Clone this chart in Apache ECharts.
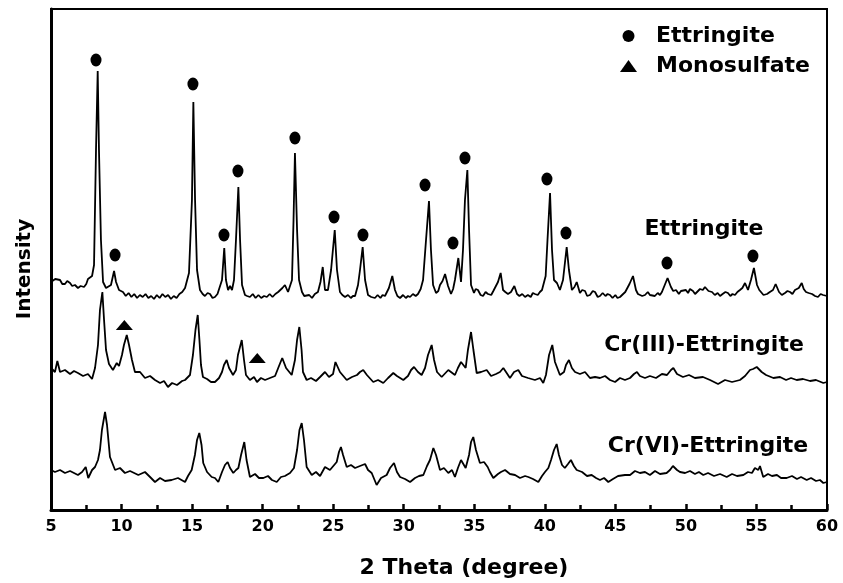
<!DOCTYPE html>
<html>
<head>
<meta charset="utf-8">
<script src="https://cdn.jsdelivr.net/npm/echarts@6/dist/echarts.min.js"></script>
<style>
html,body{margin:0;padding:0;background:#fff;}
#chart{width:843px;height:583px;}
</style>
</head>
<body>
<div id="chart"></div>
<script>
// 2 Theta (degree) vs. intensity (arbitrary units, stacked traces as displayed)
var xTicks = [5, 10, 15, 20, 25, 30, 35, 40, 45, 50, 55, 60];

var ettringite = [[5.0,228],[5.3,231],[5.64,230],[5.8,226],[5.99,226],[6.15,229],[6.35,227],[6.5,224],[6.7,225],[6.91,222],[7.1,224],[7.34,223],[7.5,226],[7.62,231],[7.76,229],[7.91,234],[8.05,245],[8.19,360],[8.31,439],[8.40,360],[8.54,270],[8.69,228],[8.9,222],[9.04,220],[9.25,225],[9.47,239],[9.61,228],[9.82,220],[10.1,218],[10.3,214],[10.5,217],[10.7,213],[10.9,216],[11.1,212],[11.3,215],[11.5,213],[11.7,216],[11.9,212],[12.1,214],[12.3,211],[12.5,215],[12.7,212],[12.9,216],[13.1,213],[13.3,215],[13.5,211],[13.7,214],[13.9,212],[14.1,216],[14.3,218],[14.5,222],[14.78,237],[14.99,310],[15.09,408],[15.21,310],[15.35,240],[15.56,220],[15.75,216],[15.91,214],[16.1,217],[16.27,216],[16.45,212],[16.62,213],[16.8,216],[16.91,218],[17.12,230],[17.28,262],[17.4,230],[17.55,220],[17.69,224],[17.83,220],[17.97,230],[18.11,270],[18.28,323],[18.4,270],[18.54,225],[18.75,215],[18.9,214],[19.1,213],[19.3,216],[19.5,212],[19.7,215],[19.9,212],[20.1,214],[20.3,213],[20.5,216],[20.7,213],[20.9,216],[21.1,218],[21.23,218],[21.4,222],[21.58,225],[21.8,218],[22.08,230],[22.19,290],[22.29,357],[22.44,280],[22.58,230],[22.79,218],[22.95,214],[23.07,213],[23.3,215],[23.5,212],[23.7,216],[23.92,218],[24.1,228],[24.26,243],[24.42,220],[24.63,220],[24.85,240],[25.11,280],[25.27,240],[25.48,218],[25.65,215],[25.84,213],[26.05,215],[26.25,212],[26.4,214],[26.55,214],[26.76,225],[26.9,240],[27.09,263],[27.26,230],[27.47,215],[27.7,213],[27.96,212],[28.15,215],[28.35,212],[28.5,215],[28.67,214],[28.95,222],[29.19,234],[29.38,220],[29.55,214],[29.74,212],[29.95,215],[30.15,212],[30.3,214],[30.45,213],[30.65,216],[30.85,214],[31.01,216],[31.2,221],[31.37,230],[31.58,270],[31.79,309],[31.93,260],[32.08,225],[32.29,217],[32.45,219],[32.57,225],[32.75,229],[32.93,236],[33.14,224],[33.35,216],[33.5,221],[33.63,230],[33.87,252],[34.06,228],[34.2,260],[34.34,310],[34.51,340],[34.63,280],[34.77,225],[34.98,217],[35.1,221],[35.26,220],[35.45,215],[35.62,214],[35.8,218],[35.97,216],[36.2,215],[36.35,219],[36.47,220],[36.68,228],[36.87,237],[37.04,220],[37.2,218],[37.39,216],[37.6,218],[37.84,224],[38.03,216],[38.2,214],[38.4,216],[38.6,213],[38.8,215],[39.0,213],[39.15,217],[39.3,216],[39.5,215],[39.65,218],[39.8,220],[40.06,234],[40.19,270],[40.37,317],[40.51,260],[40.65,230],[40.86,227],[41.07,220],[41.29,230],[41.55,263],[41.71,240],[41.92,220],[42.1,223],[42.26,228],[42.49,217],[42.65,220],[42.85,219],[43.0,214],[43.2,215],[43.4,219],[43.56,218],[43.75,213],[43.91,214],[44.1,217],[44.3,214],[44.45,216],[44.62,215],[44.8,212],[45.0,215],[45.15,212],[45.33,213],[45.55,216],[45.7,218],[45.83,220],[46.0,226],[46.25,234],[46.46,220],[46.6,216],[46.74,218],[46.9,214],[47.1,215],[47.3,218],[47.45,215],[47.59,217],[47.8,214],[48.0,217],[48.16,215],[48.3,218],[48.44,220],[48.7,232],[48.94,223],[49.1,219],[49.3,220],[49.5,216],[49.65,219],[49.79,217],[50.0,220],[50.15,217],[50.29,221],[50.5,219],[50.65,216],[50.79,218],[51.0,221],[51.2,220],[51.35,223],[51.6,219],[51.85,218],[52.05,215],[52.25,217],[52.42,214],[52.6,216],[52.8,218],[52.98,217],[53.15,214],[53.3,216],[53.48,215],[53.65,218],[53.83,220],[54.0,222],[54.19,227],[54.4,220],[54.61,230],[54.82,242],[55.04,225],[55.2,220],[55.32,218],[55.5,215],[55.75,216],[55.95,218],[56.17,220],[56.36,226],[56.6,218],[56.8,215],[57.02,217],[57.2,219],[57.38,218],[57.55,216],[57.73,220],[58.0,222],[58.21,227],[58.35,221],[58.51,218],[58.7,217],[58.94,216],[59.15,214],[59.36,213],[59.55,216],[59.72,215],[60,214]];

var cr3Ettringite = [[5.0,142],[5.28,138],[5.45,149],[5.64,138],[5.99,140],[6.35,136],[6.63,139],[6.91,137],[7.27,134],[7.62,136],[7.91,131],[8.12,142],[8.33,165],[8.47,200],[8.64,218],[8.76,190],[8.9,160],[9.11,146],[9.39,140],[9.66,147],[9.82,144],[10.03,155],[10.17,165],[10.37,175],[10.53,165],[10.74,150],[10.95,138],[11.31,138],[11.66,132],[12.02,134],[12.37,130],[12.73,127],[13.01,129],[13.29,123],[13.58,127],[13.93,125],[14.29,129],[14.5,130],[14.85,135],[15.06,155],[15.24,180],[15.4,195],[15.52,170],[15.63,145],[15.77,133],[16.06,131],[16.34,128],[16.62,128],[16.91,132],[17.12,138],[17.26,145],[17.45,150],[17.62,142],[17.9,135],[18.11,140],[18.25,155],[18.52,170],[18.68,150],[18.82,135],[19.1,130],[19.39,133],[19.6,128],[19.88,132],[20.17,130],[20.52,132],[20.88,134],[21.16,144],[21.39,152],[21.66,142],[22.06,135],[22.29,150],[22.44,170],[22.6,183],[22.76,160],[22.86,138],[23.12,130],[23.43,132],[23.78,129],[24.07,133],[24.42,138],[24.7,133],[24.99,136],[25.16,148],[25.29,150],[25.48,138],[25.96,130],[26.33,133],[26.69,135],[26.9,138],[27.13,140],[27.39,135],[27.84,128],[28.18,130],[28.55,127],[28.89,132],[29.26,137],[29.52,134],[29.97,130],[30.3,134],[30.52,140],[30.73,143],[31.01,138],[31.27,135],[31.51,142],[31.72,155],[31.98,165],[32.15,150],[32.36,138],[32.69,133],[33.16,140],[33.63,135],[33.84,142],[34.06,148],[34.39,142],[34.55,160],[34.77,178],[34.94,160],[35.17,137],[35.48,138],[35.88,140],[36.19,134],[36.54,136],[36.82,138],[37.06,142],[37.25,138],[37.53,132],[37.82,138],[38.12,140],[38.38,134],[38.81,132],[39.3,130],[39.66,132],[39.89,127],[40.08,135],[40.3,155],[40.53,165],[40.72,148],[41.07,135],[41.36,138],[41.5,145],[41.71,150],[41.92,142],[42.14,138],[42.49,136],[42.85,138],[43.2,132],[43.56,133],[43.91,132],[44.27,134],[44.62,130],[44.98,128],[45.33,132],[45.68,130],[46.04,132],[46.32,136],[46.53,138],[46.74,134],[47.1,132],[47.45,134],[47.88,132],[48.3,136],[48.66,135],[48.94,140],[49.11,142],[49.37,136],[49.79,133],[50.22,135],[50.64,132],[51.21,133],[51.71,130],[52.28,126],[52.77,130],[53.27,128],[53.83,130],[54.19,134],[54.54,140],[54.76,141],[55.02,143],[55.37,138],[55.68,135],[56.2,132],[56.67,133],[57.1,130],[57.45,132],[57.85,130],[58.3,131],[58.8,129],[59.22,130],[59.74,127],[60,128]];

var cr6Ettringite = [[5.0,40],[5.28,38],[5.64,40],[5.99,37],[6.35,39],[6.91,35],[7.2,38],[7.46,43],[7.64,32],[7.91,40],[8.12,43],[8.33,50],[8.47,60],[8.61,80],[8.83,98],[8.97,85],[9.18,53],[9.54,40],[9.89,42],[10.24,37],[10.6,39],[11.19,35],[11.66,38],[12.02,33],[12.37,28],[12.73,32],[13.08,29],[13.55,30],[14.0,32],[14.5,28],[14.71,34],[14.97,40],[15.2,55],[15.35,70],[15.51,77],[15.67,65],[15.79,47],[16.06,38],[16.39,33],[16.62,32],[16.86,28],[17.12,38],[17.33,45],[17.52,48],[17.69,42],[17.92,37],[18.11,40],[18.28,42],[18.47,55],[18.7,68],[18.86,50],[19.1,33],[19.46,36],[19.74,32],[20.05,32],[20.38,34],[20.66,30],[21.0,28],[21.3,33],[21.58,34],[21.94,37],[22.22,42],[22.44,60],[22.61,80],[22.77,87],[22.93,70],[23.12,43],[23.48,35],[23.78,38],[24.07,34],[24.42,43],[24.77,40],[25.25,48],[25.41,58],[25.55,63],[25.7,55],[25.96,43],[26.26,45],[26.55,42],[26.9,44],[27.26,46],[27.47,40],[27.73,37],[28.08,25],[28.39,32],[28.79,35],[29.03,42],[29.31,47],[29.52,38],[29.74,33],[30.09,31],[30.45,28],[30.8,32],[31.08,34],[31.39,35],[31.65,44],[31.86,50],[32.1,62],[32.29,55],[32.57,40],[32.85,42],[33.16,37],[33.42,40],[33.63,33],[33.84,42],[34.06,50],[34.39,42],[34.63,55],[34.77,68],[34.93,73],[35.12,60],[35.4,47],[35.69,48],[35.95,43],[36.11,38],[36.35,32],[36.68,36],[36.89,38],[37.18,40],[37.53,36],[37.89,35],[38.24,32],[38.6,34],[38.83,33],[39.16,31],[39.54,28],[39.8,34],[40.01,38],[40.25,42],[40.44,50],[40.65,60],[40.84,66],[41.0,55],[41.22,45],[41.42,42],[41.64,46],[41.85,50],[42.06,44],[42.26,40],[42.64,38],[42.99,34],[43.32,35],[43.63,32],[43.91,30],[44.2,32],[44.5,28],[44.83,31],[45.19,34],[45.68,35],[46.04,35],[46.39,39],[46.74,37],[47.1,38],[47.45,35],[47.81,39],[48.16,36],[48.63,37],[48.87,40],[49.08,44],[49.22,45],[49.37,40],[49.58,38],[49.94,37],[50.29,39],[50.64,36],[50.92,38],[51.23,35],[51.57,37],[51.99,34],[52.42,36],[52.89,33],[53.27,36],[53.62,34],[54.07,35],[54.4,38],[54.68,37],[54.89,42],[55.13,40],[55.25,44],[55.48,33],[55.82,36],[56.1,34],[56.45,35],[56.74,32],[57.14,32],[57.52,34],[57.87,31],[58.16,33],[58.56,30],[58.87,32],[59.22,29],[59.5,30],[59.74,27],[60,28]];

// peak identification symbols (2 Theta, symbol height)
var ettringitePeaks = [[8.19,450],[9.54,255],[15.06,426],[17.26,275],[18.25,339],[22.29,372],[25.06,293],[27.11,275],[31.51,325],[33.49,267],[34.34,352],[40.15,331],[41.5,277],[48.66,247],[54.75,254]];
var monosulfatePeaks = [[10.2,185],[19.62,152]];

var traceNames = ['Ettringite', 'Cr(III)-Ettringite', 'Cr(VI)-Ettringite'];
var legendNames = ['Ettringite', 'Monosulfate'];

var FONT = 'DejaVu Sans';
var chart = echarts.init(document.getElementById('chart'), null, {renderer: 'canvas'});

function lineSeries(data) {
  return {
    type: 'line', data: data, showSymbol: false, symbol: 'none', silent: true,
    lineStyle: {color: '#000', width: 1.8, opacity: 1}, animation: false, z: 2
  };
}

var option = {
  backgroundColor: '#fff',
  animation: false,
  grid: {left: 51, top: 9, width: 776, height: 501, show: true, borderColor: '#000', borderWidth: 2, backgroundColor: 'transparent'},
  legend: {
    orient: 'vertical', left: 615, top: 19, itemWidth: 17, itemHeight: 12, itemGap: 6,
    data: [{name: legendNames[0], icon: 'circle'}, {name: legendNames[1], icon: 'triangle'}],
    itemStyle: {color: '#000', opacity: 1},
    textStyle: {color: '#000', fontFamily: FONT, fontWeight: 'bold', fontSize: 22, lineHeight: 24, padding: [0, 0, 0, 14]},
    selectedMode: false
  },
  xAxis: {
    type: 'value', min: xTicks[0], max: xTicks[xTicks.length - 1], interval: 5,
    axisLine: {show: true, lineStyle: {color: '#000', width: 3}},
    axisTick: {show: true, inside: true, length: 6, lineStyle: {color: '#000', width: 2.5}},
    minorTick: {show: true, splitNumber: 2, length: 5, lineStyle: {color: '#000', width: 2.5}},
    axisLabel: {color: '#000', fontFamily: FONT, fontWeight: 'bold', fontSize: 16, margin: 9},
    splitLine: {show: false}
  },
  yAxis: {
    type: 'value', min: 0, max: 501,
    axisLine: {show: true, lineStyle: {color: '#000', width: 3}},
    axisTick: {show: false}, axisLabel: {show: false}, splitLine: {show: false}
  },
  graphic: [
    {type: 'text', x: 704, y: 229, style: {text: traceNames[0], fill: '#000', font: 'bold 22px "' + FONT + '"', align: 'center', verticalAlign: 'middle'}},
    {type: 'text', x: 704, y: 345, style: {text: traceNames[1], fill: '#000', font: 'bold 22px "' + FONT + '"', align: 'center', verticalAlign: 'middle'}},
    {type: 'text', x: 708, y: 446, style: {text: traceNames[2], fill: '#000', font: 'bold 22px "' + FONT + '"', align: 'center', verticalAlign: 'middle'}},
    {type: 'text', x: 464, y: 568, style: {text: '2 Theta (degree)', fill: '#000', font: 'bold 22px "' + FONT + '"', align: 'center', verticalAlign: 'middle'}},
    {type: 'text', x: 25, y: 269, rotation: Math.PI / 2, style: {text: 'Intensity', fill: '#000', font: 'bold 20px "' + FONT + '"', align: 'center', verticalAlign: 'middle'}}
  ],
  series: [
    Object.assign(lineSeries(ettringite), {name: traceNames[0] + ' pattern'}),
    Object.assign(lineSeries(cr3Ettringite), {name: traceNames[1]}),
    Object.assign(lineSeries(cr6Ettringite), {name: traceNames[2]}),
    {name: legendNames[0], type: 'scatter', data: ettringitePeaks, symbol: 'circle', symbolSize: [11, 13],
     itemStyle: {color: '#000', opacity: 1}, silent: true, z: 3},
    {name: legendNames[1], type: 'scatter', data: monosulfatePeaks, symbol: 'triangle', symbolSize: [17, 10],
     itemStyle: {color: '#000', opacity: 1}, silent: true, z: 3}
  ]
};
chart.setOption(option);
</script>
</body>
</html>
